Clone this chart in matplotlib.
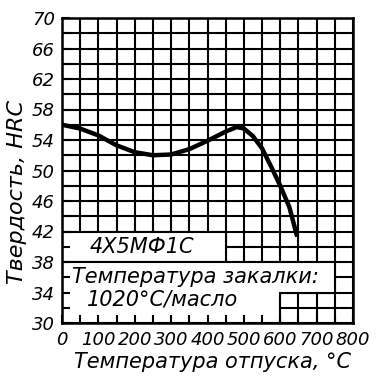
import matplotlib
matplotlib.use("Agg")
import matplotlib.pyplot as plt
from matplotlib.patches import Rectangle, Polygon
from matplotlib.ticker import MultipleLocator

# Data
temp = [0, 50, 100, 150, 200, 250, 300, 350, 400, 450, 480, 500, 525, 550, 575, 600, 625, 645]
hrc = [56.0, 55.5, 54.6, 53.3, 52.4, 52.0, 52.1, 52.8, 53.9, 55.1, 55.7, 55.5, 54.5, 52.9, 50.5, 48.0, 45.2, 41.6]
xticks = [0, 100, 200, 300, 400, 500, 600, 700, 800]
yticks = [30, 34, 38, 42, 46, 50, 54, 58, 62, 66, 70]
steel = "4X5МФ1С"
quench1 = "Температура закалки:"
quench2 = "1020°C/масло"
xlabel = "Температура отпуска, °C"
ylabel = "Твердость, HRC"

FONT = ["Liberation Sans Narrow", "DejaVu Sans"]
LFONT = ["DejaVu Sans"]

fig = plt.figure(figsize=(3.76, 3.86), dpi=100)
pos = [62/376, 1-323/386, (353-62)/376, (323-18)/386]

# main axes: grid, boxes, curve
ax = fig.add_axes(pos, label="main")
ax.set_xlim(0, 800)
ax.set_ylim(30, 70)
ax.xaxis.set_major_locator(MultipleLocator(50))
ax.yaxis.set_major_locator(MultipleLocator(2))
ax.grid(True, color="black", linewidth=1.5)
ax.set_axisbelow(True)
ax.tick_params(length=0, labelbottom=False, labelleft=False)
for s in ax.spines.values():
    s.set_linewidth(1.8)
    s.set_zorder(5)

lw = 1.5
ax.add_patch(Rectangle((0, 38), 450, 4, facecolor="white", edgecolor="black", linewidth=lw, zorder=1))
ax.add_patch(Polygon([(0, 30), (600, 30), (600, 34), (750, 34), (750, 38), (0, 38)],
                     closed=True, facecolor="white", edgecolor="black", linewidth=lw, zorder=1))

ax.plot(temp, hrc, color="black", linewidth=3.2, solid_joinstyle="round", zorder=4)

ax.text(77, 40, steel, fontsize=15, family=LFONT, style="italic", va="center", ha="left", zorder=6)
ax.text(28, 36.0, quench1, fontsize=15, family=LFONT, style="italic", va="center", ha="left", zorder=6)
ax.text(70, 33.1, quench2, fontsize=15, family=LFONT, style="italic", va="center", ha="left", zorder=6)

# overlay axes: inward ticks and tick labels
ov = fig.add_axes(pos, label="overlay")
ov.set_zorder(2)
ov.patch.set_visible(False)
for s in ov.spines.values():
    s.set_visible(False)
ov.set_xlim(0, 800)
ov.set_ylim(30, 70)
ov.set_xticks(xticks)
ov.set_yticks(yticks)
ov.xaxis.set_minor_locator(MultipleLocator(50))
ov.yaxis.set_minor_locator(MultipleLocator(2))
ov.set_xticklabels([str(t) for t in xticks], fontsize=13, family=FONT, style="italic")
ov.set_yticklabels([str(t) for t in yticks], fontsize=13, family=FONT, style="italic")
ov.tick_params(which="both", direction="in", length=6, width=1.5, color="black")
ov.tick_params(axis="y", which="major", pad=5)
ov.tick_params(axis="x", which="major", pad=6)

fig.text(213/376, 1-362/386, xlabel, fontsize=15, family=LFONT, style="italic", ha="center", va="center")
fig.text(17/376, 1-192/386, ylabel, fontsize=16, family=LFONT, style="italic", ha="center", va="center",
         rotation=90)

fig.savefig("out.png", dpi=100)
